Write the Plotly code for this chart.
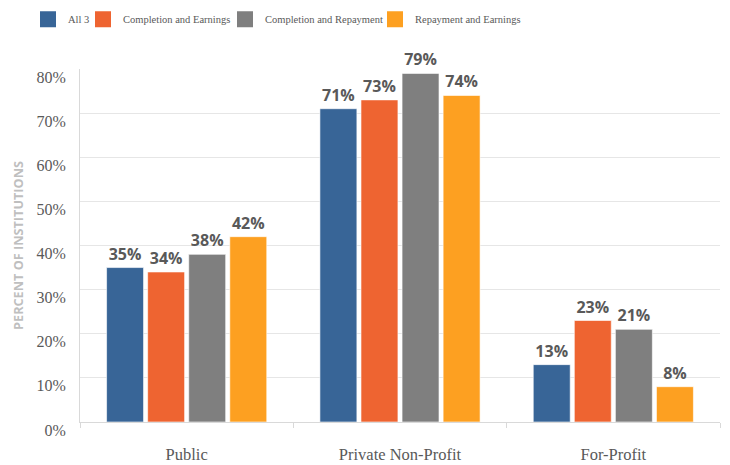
import plotly.graph_objects as go

categories = ["Public", "Private Non-Profit", "For-Profit"]
series_names = ["All 3", "Completion and Earnings", "Completion and Repayment", "Repayment and Earnings"]
all3 = [35, 71, 13]
comp_earn = [34, 73, 23]
comp_repay = [38, 79, 21]
repay_earn = [42, 74, 8]
colors = ["#386597", "#EE6431", "#7F7F7F", "#FDA021"]
y_ticks = [0, 10, 20, 30, 40, 50, 60, 70, 80]
legend_x_px = [28, 83, 225, 375]  # legend box left positions (layout)

fig = go.Figure()
series = [all3, comp_earn, comp_repay, repay_earn]
for i, (name, vals, col) in enumerate(zip(series_names, series, colors)):
    fig.add_trace(go.Bar(
        x=categories, y=vals, name=name, showlegend=False,
        marker=dict(color=col, line=dict(color="rgba(255,255,255,0.6)", width=1)),
        text=[f"{v}%" for v in vals], textposition="outside",
        textfont=dict(family="Open Sans", size=16, color="#595959", weight="bold"),
        cliponaxis=False,
    ))
    lg = "legend" if i == 0 else f"legend{i + 1}"
    fig.add_trace(go.Scatter(
        x=[None], y=[None], mode="markers", name=name, legend=lg,
        marker=dict(symbol="square", size=18, color=col),
    ))

legend_common = dict(orientation="h", yref="container", y=0.99, yanchor="top",
                     xref="container", xanchor="left", bgcolor="rgba(0,0,0,0)",
                     font=dict(family="Liberation Serif", size=10.5, color="#595959"),
                     itemwidth=30)
layout_legends = {}
for i, px in enumerate(legend_x_px):
    key = "legend" if i == 0 else f"legend{i + 1}"
    layout_legends[key] = dict(legend_common, x=px / 730)

fig.update_layout(
    width=730, height=465,
    margin=dict(l=80, r=10, t=69, b=43, autoexpand=False),
    paper_bgcolor="white", plot_bgcolor="white",
    barmode="group", bargap=0.23, bargroupgap=0.1,
    font=dict(family="Liberation Serif", color="#595959"),
    xaxis=dict(showgrid=False, showline=True, linecolor="#D9D9D9", linewidth=1,
               ticks="outside", ticklen=5, tickcolor="#D9D9D9", tickson="boundaries",
               ticklabelstandoff=17,
               tickfont=dict(family="Liberation Serif", size=16.5, color="#595959")),
    yaxis=dict(range=[0, 80], tickvals=y_ticks, ticktext=[f"{v}%" for v in y_ticks],
               showgrid=True, gridcolor="#E6E6E6", gridwidth=1,
               showline=True, linecolor="#D9D9D9", linewidth=1, zeroline=False,
               ticks="", ticklabelstandoff=10, ticklabelshift=8,
               tickfont=dict(family="Liberation Serif", size=16, color="#595959"),
               title=dict(text="PERCENT OF INSTITUTIONS", standoff=10,
                          font=dict(family="Open Sans", size=12.7, color="#BFBFBF", weight="bold"))),
    **layout_legends,
)

fig.write_html("out.html", config={"displayModeBar": False},
               post_script="document.body.style.margin='0';")
